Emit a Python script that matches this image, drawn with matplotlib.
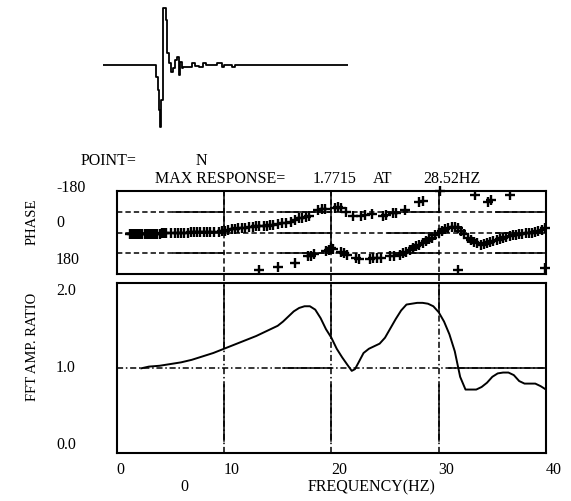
import numpy as np
import matplotlib
matplotlib.use('Agg')
import matplotlib.pyplot as plt
from matplotlib.transforms import blended_transform_factory as btf

plt.rcParams['font.family'] = ['Liberation Serif', 'DejaVu Serif']

# ---------------- data ----------------
# impulse time history (step samples)
wave_time = [0, 53, 55.3, 56.3, 57, 58, 59.7, 60.3, 62.7, 64.3, 66, 67.7, 69.7, 71.7,
             73.7, 75.7, 77, 78.7, 80.3, 88.7, 92, 96.3, 99.7, 103, 113.7, 118.7, 121,
             128.7, 132, 245]
wave_amp = [0, -11.7, -25, -45, -62, -35, 45, 57, 45, 12, 2, -7, -3, 5, 8, -10, 3, -3,
            -2, 2, -1, -2, 2, 0, 2, -2, 0, -2, 0, 0]

# phase, first branch
freq_a = [1.2, 1.4, 1.6, 1.8, 2.0, 2.2, 2.4, 2.6, 2.8, 3.0, 3.2, 3.4, 3.6, 3.8, 4.0,
          4.2, 4.4, 4.6,
          5.1, 5.4, 5.7, 6.0, 6.3, 6.6, 6.9, 7.2, 7.5, 7.8, 8.1, 8.4, 8.7,
          9.1, 9.5, 9.8, 10.1, 10.4, 10.7, 11.0, 11.3, 11.7, 12.0, 12.3,
          12.7, 13.0, 13.3, 13.7, 14.0, 14.3, 14.6, 15.0, 15.4, 15.8, 16.2, 16.6,
          17.0, 17.3, 17.6, 17.9, 18.8, 19.1, 19.4, 20.3, 20.6, 20.9, 21.4, 22.0,
          22.8, 23.1, 23.8, 24.8, 25.1, 25.7, 26.0, 26.9, 28.2, 28.5, 30.1, 31.8,
          33.4, 34.6, 34.9, 36.6, 39.9]
phase_a = [6, 6, 6, 6, 6, 6, 5, 5, 5, 5, 5, 5, 5, 5, 5, 4, 4, 4,
           1, 1, 0, 0, 0, 0, -1, -1, -1, -2, -2, -2, -3,
           -3, -4, -5, -8, -12, -15, -17, -18, -19, -21, -24,
           -25, -26, -26, -27, -28, -31, -34, -37, -40, -42, -47, -55,
           -61, -63, -66, -72, -98, -102, -100, -106, -108, -104, -88, -70,
           -72, -76, -79, -73, -76, -82, -86, -99, -130, -135, -178, 163,
           -163, -133, -142, -163, 154]

# phase, second branch
freq_b = [13.3, 15.0, 16.6, 17.8, 18.1, 18.4, 19.5, 19.8, 20.0, 20.2, 20.9, 21.2, 21.5,
          22.3, 22.6, 23.6, 23.9, 24.3, 24.6, 25.5, 25.8, 26.4, 26.7, 27.0, 27.3,
          27.6, 27.9, 28.2, 28.5, 28.8, 29.1, 29.4, 29.7, 30.0, 30.3, 30.6, 30.9,
          31.2, 31.5, 31.8, 32.1, 32.4, 32.7, 33.0, 33.3, 33.6, 33.9, 34.2, 34.5,
          34.8, 35.1, 35.4, 35.7, 36.0, 36.3, 36.6, 36.9, 37.2, 37.5, 37.8, 38.1,
          38.4, 38.7, 39.0, 39.3, 39.6, 39.9]
phase_b = [163, 149, 130, 103, 100, 94, 80, 74, 66, 72, 84, 90, 95,
           110, 116, 112, 110, 111, 108, 102, 100, 95, 90, 85, 76,
           68, 58, 52, 45, 36, 30, 22, 12, 2, -8, -14, -18,
           -22, -25, -20, -8, 8, 22, 32, 40, 47, 52, 50, 46,
           42, 38, 34, 28, 24, 20, 16, 12, 10, 8, 5, 4,
           2, 0, -2, -5, -12, -18]

# FFT amplitude ratio
freq_amp = [2.3, 3.0, 4.0, 5.0, 6.0, 7.0, 8.0, 9.0, 10.0, 11.0, 12.0, 13.0, 14.0, 15.0,
            15.5, 16.0, 16.5, 17.0, 17.5, 18.0, 18.5, 19.0, 19.5, 20.0, 20.5, 21.0,
            21.5, 21.9, 22.2, 22.5, 23.0, 23.5, 24.0, 24.5, 25.0, 25.5, 26.0, 26.5,
            27.0, 27.5, 28.0, 28.5, 29.0, 29.5, 30.0, 30.5, 31.0, 31.5, 32.0, 32.5,
            33.0, 33.5, 34.0, 34.5, 35.0, 35.5, 36.0, 36.5, 37.0, 37.5, 38.0, 38.5,
            39.0, 39.5, 40.0]
amp_ratio = [1.00, 1.02, 1.03, 1.05, 1.07, 1.10, 1.14, 1.18, 1.23, 1.28, 1.33, 1.38, 1.44,
             1.50, 1.55, 1.61, 1.67, 1.71, 1.73, 1.73, 1.69, 1.59, 1.46, 1.36, 1.23,
             1.13, 1.04, 0.97, 0.99, 1.06, 1.18, 1.23, 1.26, 1.29, 1.36, 1.47, 1.58,
             1.68, 1.75, 1.76, 1.77, 1.77, 1.76, 1.73, 1.66, 1.55, 1.40, 1.20, 0.90,
             0.75, 0.75, 0.75, 0.78, 0.83, 0.90, 0.94, 0.95, 0.95, 0.92, 0.85, 0.82,
             0.82, 0.82, 0.79, 0.75]

xticks = [0, 10, 20, 30, 40]
xtick_labels = ['0', '10', '20', '30', '40']
amp_ticks = [0.0, 1.0, 2.0]
amp_tick_labels = ['0.0', '1.0', '2.0']
phase_tick_labels = ['-180', '0', '180']

# ---------------- figure ----------------
W, H = 571, 501
fig = plt.figure(figsize=(W / 100, H / 100), dpi=100)
fig.patch.set_facecolor('white')


def box(l, t, r, b):
    return [l / W, 1 - b / H, (r - l) / W, (b - t) / H]


def ftxt(x, y, s, **kw):
    kw.setdefault('fontsize', 11.5)
    kw.setdefault('va', 'center')
    fig.text(x / W, 1 - y / H, s, **kw)


FS = 11.5
LW_FRAME = 1.5
LW_GRID = 1.1
DASH = (0, (3.5, 2.0))
DASHDOT = (0, (4.0, 1.8, 1.0, 1.8))

# waveform
ax_w = fig.add_axes(box(103, 0, 348, 135))
ax_w.plot(wave_time, wave_amp, drawstyle='steps-post', color='black', lw=1.3)
ax_w.set_xlim(0, 245)
ax_w.set_ylim(-70, 65)
ax_w.axis('off')

# phase panel
ax_p = fig.add_axes(box(116.7, 190.7, 546, 274.3))
ax_p.set_xlim(0, 40)
ax_p.set_ylim(180, -180)
for yv in (-90, 0, 90):
    ax_p.plot([0, 40], [yv, yv], color='black', lw=LW_GRID, ls=DASH, zorder=1)
    for seg in ((5.2, 10), (15.3, 20), (25.3, 30), (35.3, 40)):
        ax_p.plot(seg, [yv, yv], color='black', lw=LW_GRID, zorder=1.1)
for xv, ysolid in ((10, -27), (20, 65), (30, -90)):
    ax_p.plot([xv, xv], [-180, 180], color='black', lw=LW_GRID, ls=DASH, zorder=1)
    ax_p.plot([xv, xv], [-180, ysolid], color='black', lw=LW_GRID, zorder=1.1)
ax_p.plot(freq_a, phase_a, ls='none', marker='+', ms=6.5, mew=1.7, color='black',
          clip_on=False, zorder=3)
ax_p.plot(freq_b, phase_b, ls='none', marker='+', ms=6.5, mew=1.7, color='black',
          clip_on=False, zorder=3)
ax_p.set_yticks([])
ax_p.set_xticks([10, 20, 30])
ax_p.tick_params(axis='x', direction='out', length=5, width=LW_GRID, labelbottom=False,
                 top=False)
for s in ax_p.spines.values():
    s.set_linewidth(LW_FRAME)

tp = btf(fig.transFigure, ax_p.transAxes)
for lab, yf in zip(phase_tick_labels, (1.03, 0.61, 0.17)):
    ax_p.text(56 / W, yf, lab, transform=tp, fontsize=FS, va='center', ha='left')

# amplitude panel
ax_a = fig.add_axes(box(116.7, 283.3, 546, 453.3))
ax_a.set_xlim(0, 40)
ax_a.set_ylim(0, 2)
above = ax_a.fill_between(freq_amp, amp_ratio, 2.0, color='none', lw=0)
clip_path = above.get_paths()[0]
ax_a.plot([0, 40], [1, 1], color='black', lw=LW_GRID, ls=DASHDOT, zorder=1)
for seg in ((15.5, 20), (31, 40)):
    ax_a.plot(seg, [1, 1], color='black', lw=LW_GRID, zorder=1.1)
for xv in (10, 20, 30):
    ax_a.plot([xv, xv], [0, 2], color='black', lw=LW_GRID, ls=DASHDOT, zorder=1)
    ax_a.plot([xv, xv], [0.15, 0.8], color='black', lw=LW_GRID, zorder=1.1)
    ln, = ax_a.plot([xv, xv], [0, 2], color='black', lw=LW_GRID, zorder=1.1)
    ln.set_clip_path(clip_path, ax_a.transData)
ax_a.plot(freq_amp, amp_ratio, color='black', lw=1.4, zorder=3)
ax_a.set_yticks([])
ax_a.set_xticks(xticks, labels=xtick_labels)
ax_a.tick_params(axis='x', length=0, pad=6, labelsize=FS)
for lab in ax_a.get_xticklabels():
    lab.set_horizontalalignment('left')
for s in ax_a.spines.values():
    s.set_linewidth(LW_FRAME)

ta = btf(fig.transFigure, ax_a.transData)
for v, lab, va in zip(amp_ticks, amp_tick_labels, ('bottom', 'center', 'top')):
    ax_a.text(56 / W, v, lab, transform=ta, fontsize=FS, va=va, ha='left')

# header texts
ftxt(81, 161, 'POINT=', ha='left')
ftxt(201, 161, 'N', ha='center')
ftxt(155, 179, 'MAX RESPONSE=', ha='left')
ftxt(313, 179, '1.7715', ha='left')
ftxt(373, 179, 'AT', ha='left')
ftxt(423, 179, '28.52HZ', ha='left')

# axis titles
ftxt(32, 222, 'PHASE', ha='center', rotation=90, fontsize=10.5)
ftxt(32, 347, 'FFT AMP. RATIO', ha='center', rotation=90, fontsize=10.5)
ftxt(184, 487, '0', ha='center')
ftxt(372, 487, 'FREQUENCY(HZ)', ha='center')

fig.savefig('out.png', dpi=100)
